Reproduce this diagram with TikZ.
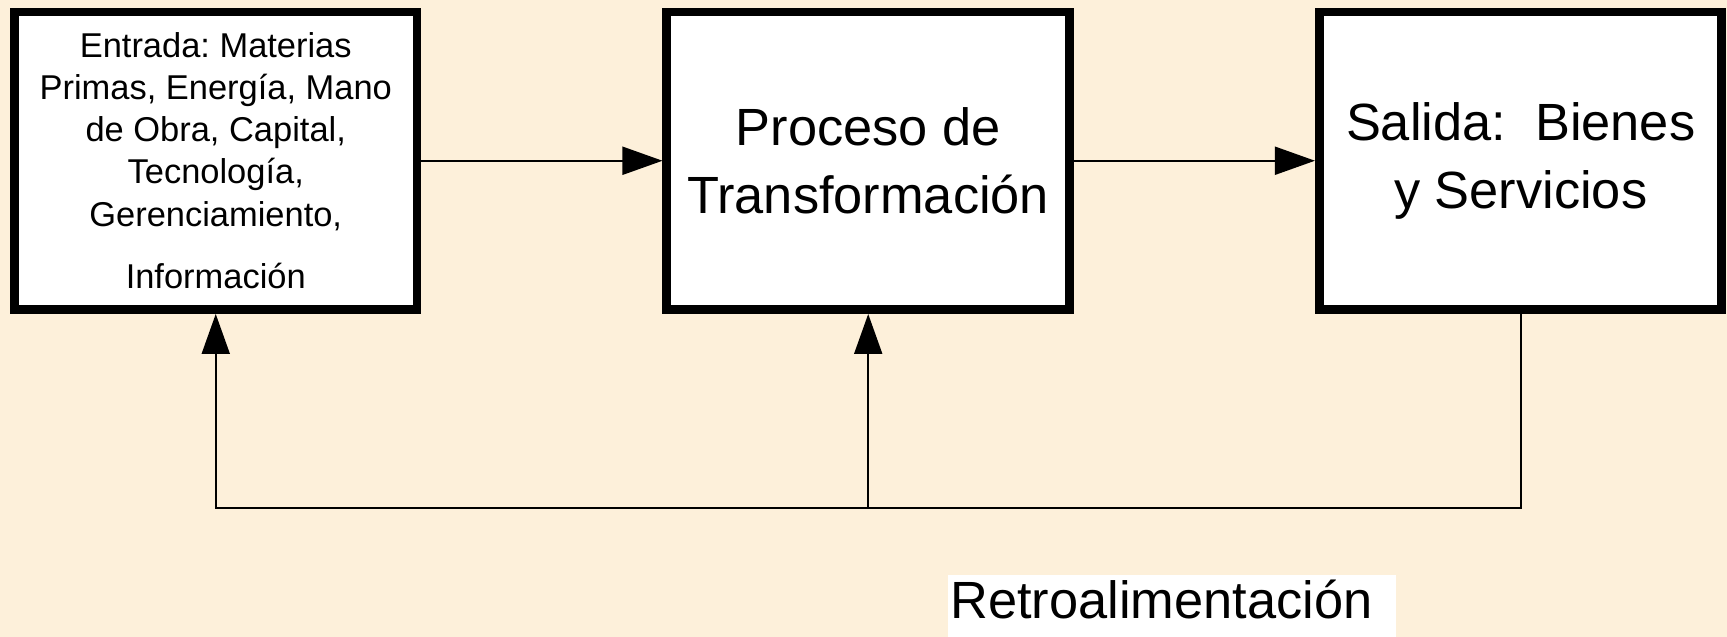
\documentclass[tikz,border=0pt]{standalone}
\usepackage{fontspec}
\setmainfont{Liberation Sans}
\usepackage{tikz}
\usetikzlibrary{
  arrows.meta,
  positioning,
  calc
}
\definecolor{bgcolor}{HTML}{FDF0DA}
\frenchspacing

\begin{document}
\begin{tikzpicture}[
  block/.style={
    draw, fill=white, line width=5.1pt,
    minimum width=8.05cm, minimum height=5.95cm,
    align=center, inner sep=0pt
  },
  bigtxt/.style={font=\fontsize{29.8}{38.7}\selectfont},
  smalltxt/.style={font=\fontsize{19.6}{24}\selectfont},
  flow/.style={-{Triangle[length=0.8cm, width=0.56cm]}, line width=1.1pt},
  lbl/.style={
    bigtxt, fill=white, inner xsep=0.04cm, inner ysep=0pt,
    text width=8.88cm, align=left, text height=0.88cm, text depth=0.36cm
  }
]

  % ── Background ──
  \fill[bgcolor] (0,0) rectangle (34.54,-12.74);
  \useasboundingbox (0,0) rectangle (34.54,-12.74);

  % ── Blocks ──
  \node[block, smalltxt] (ent) at (4.315,-3.215)
    {Entrada: Materias\\Primas, Energía, Mano\\de Obra, Capital,\\Tecnología,\\Gerenciamiento,\\[0.41cm]Información};
  \node[block, bigtxt, right=4.82cm of ent] (proc) {Proceso de\\Transformación};
  \node[block, bigtxt, right=4.82cm of proc] (sal) {Salida:\ \ Bienes\\y Servicios};

  % ── Forward flow ──
  \draw[flow] (ent.east) -- (proc.west);
  \draw[flow] (proc.east) -- (sal.west);

  % ── Feedback loop ──
  \draw[flow] (sal.south) -- ++(0,-3.88) coordinate (fbr) -| (ent.south);
  \draw[flow] (proc.south |- fbr) -- (proc.south);

  % ── Label ──
  \node[lbl, anchor=south west] (retro) at (18.96,-12.74) {Retroalimentación};

\end{tikzpicture}
\end{document}
